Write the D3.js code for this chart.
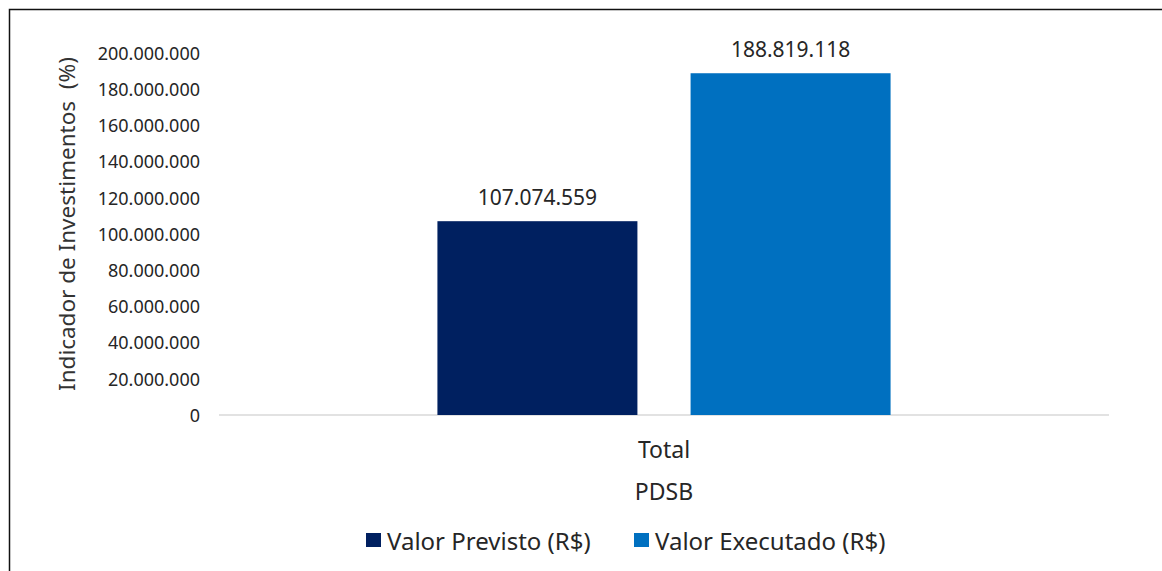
<!DOCTYPE html>
<meta charset="utf-8">
<script src="https://d3js.org/d3.v7.min.js"></script>
<style>
  body { margin: 0; background: #fff; }
  text { font-family: "Noto Sans", sans-serif; fill: #262626; }
</style>
<div id="chart"></div>
<script>

// data
var categories = ["Total"];
var groupLabel = "PDSB";
var seriesNames = ["Valor Previsto (R$)", "Valor Executado (R$)"];
var seriesColors = ["#002060", "#0070C0"];
var values = [107074559, 188819118];
var yMax = 200000000;

var W = 1162, H = 571;
var margin = {top: 53, right: 53, bottom: 156, left: 219};

var br = d3.formatLocale({decimal: ",", thousands: ".", grouping: [3], currency: ["R$", ""]});
var fmt = br.format(",.0f");

var svg = d3.select("#chart")
  .append("svg")
    .attr("width", W)
    .attr("height", H);

// frame (top + left lines only, like the cropped screenshot)
svg.append("path")
  .attr("d", "M9.5," + H + "V9.5H" + W)
  .attr("fill", "none")
  .attr("stroke", "#111")
  .attr("stroke-width", 1.5);

var y = d3.scaleLinear()
  .domain([0, yMax])
  .range([H - margin.bottom, margin.top]);

var x0 = d3.scaleBand()
  .domain(categories)
  .range([margin.left, W - margin.right])
  .paddingInner(0)
  .paddingOuter(0.482);

var x1 = d3.scaleBand()
  .domain(seriesNames)
  .range([0, x0.bandwidth()])
  .paddingInner(0.21);

// y axis labels
var yAxis = d3.axisLeft(y)
  .ticks(10)
  .tickSize(0)
  .tickPadding(0)
  .tickFormat(fmt);

var gy = svg.append("g")
  .attr("transform", "translate(" + (margin.left - 19) + ",0)")
  .call(yAxis);
gy.select(".domain").remove();
gy.selectAll("text")
  .style("font-size", "18px")
  .style("fill", "#262626")
  .attr("dy", "0.35em");

// baseline
svg.append("line")
  .attr("x1", margin.left)
  .attr("x2", W - margin.right)
  .attr("y1", y(0))
  .attr("y2", y(0))
  .attr("stroke", "#d9d9d9")
  .attr("stroke-width", 1.5);

// bars
var groups = svg.selectAll(".grp")
  .data(categories)
  .enter()
  .append("g")
    .attr("transform", function(d){ return "translate(" + x0(d) + ",0)"; });

groups.selectAll("rect")
  .data(function(){ return seriesNames.map(function(s, i){ return {s: s, v: values[i], c: seriesColors[i]}; }); })
  .enter()
  .append("rect")
    .attr("x", function(d){ return x1(d.s); })
    .attr("y", function(d){ return y(d.v); })
    .attr("width", x1.bandwidth())
    .attr("height", function(d){ return y(0) - y(d.v); })
    .attr("fill", function(d){ return d.c; });

groups.selectAll(".lbl")
  .data(function(){ return seriesNames.map(function(s, i){ return {s: s, v: values[i]}; }); })
  .enter()
  .append("text")
    .attr("x", function(d){ return x1(d.s) + x1.bandwidth() / 2; })
    .attr("y", function(d){ return y(d.v) - 16; })
    .attr("text-anchor", "middle")
    .style("font-size", "21px")
    .text(function(d){ return fmt(d.v); });

// category labels
svg.selectAll(".cat")
  .data(categories)
  .enter()
  .append("text")
    .attr("x", function(d){ return x0(d) + x0.bandwidth() / 2; })
    .attr("y", y(0) + 43)
    .attr("text-anchor", "middle")
    .style("font-size", "23px")
    .text(function(d){ return d; });

svg.append("text")
  .attr("x", (margin.left + W - margin.right) / 2)
  .attr("y", y(0) + 85)
  .attr("text-anchor", "middle")
  .style("font-size", "23px")
  .text(groupLabel);

// y axis title
svg.append("text")
  .attr("transform", "translate(75,224) rotate(-90)")
  .attr("text-anchor", "middle")
  .style("font-size", "22.5px")
  .style("fill", "#333")
  .attr("xml:space", "preserve")
  .text("Indicador de Investimentos  (%)");

// legend
var legendX = [366, 634];
var legend = svg.selectAll(".leg")
  .data(seriesNames)
  .enter()
  .append("g")
    .attr("transform", function(d, i){ return "translate(" + legendX[i] + ",533)"; });

legend.append("rect")
  .attr("width", 15)
  .attr("height", 14)
  .attr("fill", function(d, i){ return seriesColors[i]; });

legend.append("text")
  .attr("x", 21)
  .attr("y", 17)
  .style("font-size", "24px")
  .text(function(d){ return d; });

</script>
